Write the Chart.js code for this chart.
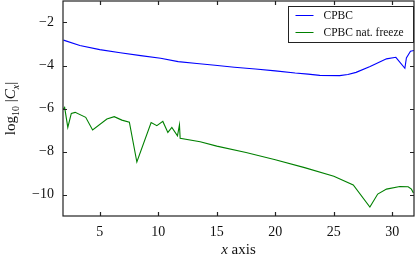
<!DOCTYPE html>
<html>
<head>
<meta charset="utf-8">
<script src="https://cdn.jsdelivr.net/npm/chart.js@4.4.1/dist/chart.umd.min.js"></script>
<style>
html,body{margin:0;padding:0;background:#fff;}
canvas{display:block;}
</style>
</head>
<body>
<canvas id="c" width="415" height="257"></canvas>
<script>
// ---- data ----
const seriesNames = ["CPBC", "CPBC nat. freeze"];
const xTicks = [5, 10, 15, 20, 25, 30];
const yTicks = [-10, -8, -6, -4, -2];

const cpbcX = [1.9, 3.3, 5.0, 6.75, 8.5, 10.2, 11.7, 13.3, 14.85, 16.5, 18.3, 20.0, 21.7, 22.8, 23.8, 25.5, 26.2, 26.9, 28.1, 29.5, 30.3, 31.07, 31.2, 31.55, 31.85];
const cpbcY = [-2.82, -3.07, -3.26, -3.41, -3.54, -3.66, -3.82, -3.91, -3.99, -4.08, -4.16, -4.25, -4.35, -4.40, -4.46, -4.47, -4.42, -4.32, -4.05, -3.69, -3.62, -4.13, -3.65, -3.34, -3.30];

const freezeX = [1.86, 2.0, 2.27, 2.57, 2.9, 3.8, 4.39, 5.61, 6.24, 6.89, 7.53, 8.17, 9.39, 9.88, 10.39, 10.82, 11.16, 11.64, 11.81, 11.87, 13.58, 15.0, 17.5, 20.0, 22.5, 25.0, 26.66, 28.08, 28.75, 29.5, 30.64, 31.35, 31.63, 31.8];
const freezeY = [-6.05, -5.95, -6.88, -6.23, -6.18, -6.41, -7.0, -6.49, -6.38, -6.54, -6.64, -8.49, -6.65, -6.8, -6.6, -7.11, -6.88, -7.27, -6.76, -7.39, -7.55, -7.75, -8.05, -8.38, -8.75, -9.15, -9.56, -10.58, -9.98, -9.75, -9.63, -9.64, -9.75, -9.93];

const seriesX = [cpbcX, freezeX];
const seriesY = [cpbcY, freezeY];
const seriesColors = ["#0000ff", "#008000"];

const FONT = "'Liberation Serif', 'DejaVu Serif', serif";

// frame + inward ticks on all four sides
const framePlugin = {
  id: 'frame',
  afterDatasetsDraw(chart) {
    const {ctx, chartArea: a, scales} = chart;
    ctx.save();
    ctx.strokeStyle = '#222';
    ctx.lineWidth = 1.2;
    ctx.beginPath();
    const L = 4;
    scales.x.ticks.forEach(t => {
      const px = Math.round(scales.x.getPixelForValue(t.value)) + 0.5;
      ctx.moveTo(px, a.bottom); ctx.lineTo(px, a.bottom - L);
      ctx.moveTo(px, a.top); ctx.lineTo(px, a.top + L);
    });
    scales.y.ticks.forEach(t => {
      const py = Math.round(scales.y.getPixelForValue(t.value)) + 0.5;
      ctx.moveTo(a.left, py); ctx.lineTo(a.left + L, py);
      ctx.moveTo(a.right, py); ctx.lineTo(a.right - L, py);
    });
    ctx.stroke();
    ctx.strokeRect(a.left, a.top, a.right - a.left, a.bottom - a.top);
    ctx.restore();
  },
  afterDraw(chart) {
    const {ctx, chartArea: a} = chart;
    ctx.save();
    // legend
    const bx = 288.5, by = 6.5, bw = 125, bh = 36;
    ctx.fillStyle = '#fff';
    ctx.fillRect(bx, by, bw, bh);
    ctx.strokeStyle = '#222';
    ctx.lineWidth = 1;
    ctx.strokeRect(bx, by, bw, bh);
    ctx.font = "11.5px " + FONT;
    ctx.textBaseline = 'middle';
    ctx.textAlign = 'left';
    chart.data.datasets.forEach((ds, i) => {
      const yy = by + 9 + i * 17;
      ctx.strokeStyle = ds.borderColor;
      ctx.lineWidth = 1;
      ctx.beginPath();
      ctx.moveTo(bx + 7, yy); ctx.lineTo(bx + 25, yy);
      ctx.stroke();
      ctx.fillStyle = '#111';
      ctx.fillText(ds.label, bx + 35, yy + 0.5);
    });

    // x title: "x axis"
    ctx.fillStyle = '#111';
    ctx.textBaseline = 'alphabetic';
    const cx = (a.left + a.right) / 2;
    const fN = "15px " + FONT, fI = "italic 15px " + FONT;
    ctx.font = fI; const w1 = ctx.measureText('x').width;
    ctx.font = fN; const w2 = ctx.measureText(' axis').width;
    let x0 = cx - (w1 + w2) / 2;
    ctx.font = fI; ctx.fillText('x', x0, 254);
    ctx.font = fN; ctx.fillText(' axis', x0 + w1, 254);

    // y title: log10 |Cx|
    const segs = [
      {t: 'log', f: fN, dy: 0},
      {t: '10', f: "10px " + FONT, dy: 3.5},
      {t: ' |', f: fN, dy: 0},
      {t: 'C', f: fI, dy: 0},
      {t: 'x', f: "italic 10px " + FONT, dy: 3.5},
      {t: '|', f: fN, dy: 0}
    ];
    let tw = 0;
    segs.forEach(s => { ctx.font = s.f; s.w = ctx.measureText(s.t).width; tw += s.w; });
    ctx.translate(15, (a.top + a.bottom) / 2);
    ctx.rotate(-Math.PI / 2);
    let xx = -tw / 2;
    segs.forEach(s => { ctx.font = s.f; ctx.fillText(s.t, xx, s.dy); xx += s.w; });
    ctx.restore();
  }
};

new Chart(document.getElementById('c'), {
  type: 'line',
  data: {
    datasets: seriesNames.map((name, i) => ({
      label: name,
      data: seriesX[i].map((x, k) => ({x: x, y: seriesY[i][k]})),
      borderColor: seriesColors[i],
      backgroundColor: seriesColors[i],
      borderWidth: 1.1,
      pointRadius: 0,
      tension: 0,
      fill: false
    }))
  },
  options: {
    responsive: false,
    animation: false,
    devicePixelRatio: 1,
    layout: {padding: {top: 1, right: 1, left: 0, bottom: 0}},
    plugins: {legend: {display: false}, tooltip: {enabled: false}},
    scales: {
      x: {
        type: 'linear',
        min: 1.86,
        max: 31.85,
        afterBuildTicks: s => { s.ticks = xTicks.map(v => ({value: v})); },
        afterFit: s => { s.height = 41; s.paddingLeft = 0; s.paddingRight = 0; },
        grid: {display: false, drawTicks: false},
        border: {display: false},
        ticks: {
          font: {family: FONT, size: 14},
          color: '#111',
          padding: 8,
          maxRotation: 0,
          callback: v => String(v)
        }
      },
      y: {
        type: 'linear',
        min: -11,
        max: -1,
        afterBuildTicks: s => { s.ticks = yTicks.map(v => ({value: v})); },
        afterFit: s => { s.width = 63; s.paddingTop = 0; s.paddingBottom = 0; },
        grid: {display: false, drawTicks: false},
        border: {display: false},
        ticks: {
          font: {family: FONT, size: 14},
          color: '#111',
          padding: 9,
          callback: v => (v < 0 ? '\u2212' + Math.abs(v) : String(v))
        }
      }
    }
  },
  plugins: [framePlugin]
});
</script>
</body>
</html>
